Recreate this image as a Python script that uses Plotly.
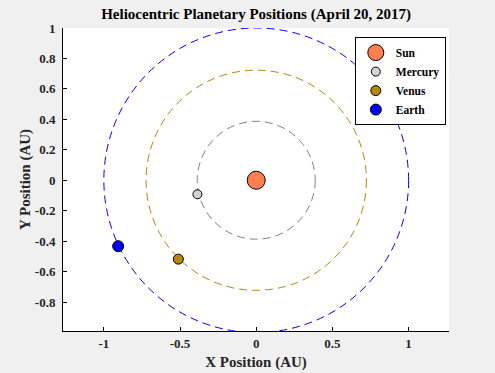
import plotly.graph_objects as go

names = ["Sun", "Mercury", "Venus", "Earth"]
x_pos = [0.0, -0.386, -0.511, -0.906]
y_pos = [0.0, -0.092, -0.518, -0.433]
marker_sizes = [18, 9, 10, 11]
marker_colors = ["#ff7f50", "#d3d3d3", "#b8860b", "#0000ff"]

orbit_names = ["Mercury", "Venus", "Earth"]
orbit_radii = [0.387, 0.723, 1.0]
orbit_colors = ["#808080", "#b8860b", "#0000ff"]

x_ticks = [-1, -0.5, 0, 0.5, 1]
y_ticks = [-0.8, -0.6, -0.4, -0.2, 0, 0.2, 0.4, 0.6, 0.8, 1]

FONT = "Liberation Serif"

fig = go.Figure()
for n, x, y, s, c in zip(names, x_pos, y_pos, marker_sizes, marker_colors):
    fig.add_trace(go.Scatter(
        x=[x], y=[y], mode="markers", name=f"<b>{n}</b>",
        marker=dict(size=s, color=c, line=dict(color="black", width=1)),
    ))

for r, c in zip(orbit_radii, orbit_colors):
    fig.add_shape(type="circle", xref="x", yref="y", x0=-r, y0=-r, x1=r, y1=r,
                  line=dict(color=c, width=1, dash="8px,5px"), layer="below")

tickfont = dict(family=FONT, size=13, color="#262626", weight="bold")

fig.update_layout(
    width=495, height=373,
    margin=dict(l=63, r=46, t=28, b=42, autoexpand=False),
    paper_bgcolor="#f0f0f0", plot_bgcolor="white",
    font=dict(family=FONT, size=13, color="#262626"),
    title=dict(text="<b>Heliocentric Planetary Positions (April 20, 2017)</b>",
               x=0.5175, xanchor="center", y=0.962, yanchor="middle",
               font=dict(family=FONT, size=15, color="black")),
    showlegend=True,
    legend=dict(x=0.756, y=0.97, xanchor="left", yanchor="top",
                bgcolor="white", bordercolor="black", borderwidth=1,
                font=dict(family=FONT, size=11.5, color="black"),
                itemsizing="trace", tracegroupgap=0, itemwidth=30),
)
fig.update_xaxes(range=[-1.268, 1.265], tickvals=x_ticks,
                 ticktext=[f"{v:g}" for v in x_ticks], tickfont=tickfont,
                 ticks="inside", ticklen=4, tickcolor="black",
                 showline=True, linecolor="black", linewidth=1, mirror=False,
                 showgrid=False, zeroline=False, automargin=False,
                 title=dict(text="<b>X Position (AU)</b>", standoff=6,
                            font=dict(family=FONT, size=15, color="#262626")))
fig.update_yaxes(range=[-0.99, 1.0], tickvals=y_ticks,
                 ticktext=[f"{v:g}" for v in y_ticks], tickfont=tickfont,
                 ticks="inside", ticklen=4, tickcolor="black",
                 ticklabelstandoff=4,
                 showline=True, linecolor="black", linewidth=1, mirror=False,
                 showgrid=False, zeroline=False, automargin=False,
                 title=dict(text="<b>Y Position (AU)</b>", standoff=0,
                            font=dict(family=FONT, size=15, color="#262626")))

fig.write_html("out.html", config={"displayModeBar": False},
               post_script="document.body.style.margin='0px';document.body.style.overflow='hidden';")
